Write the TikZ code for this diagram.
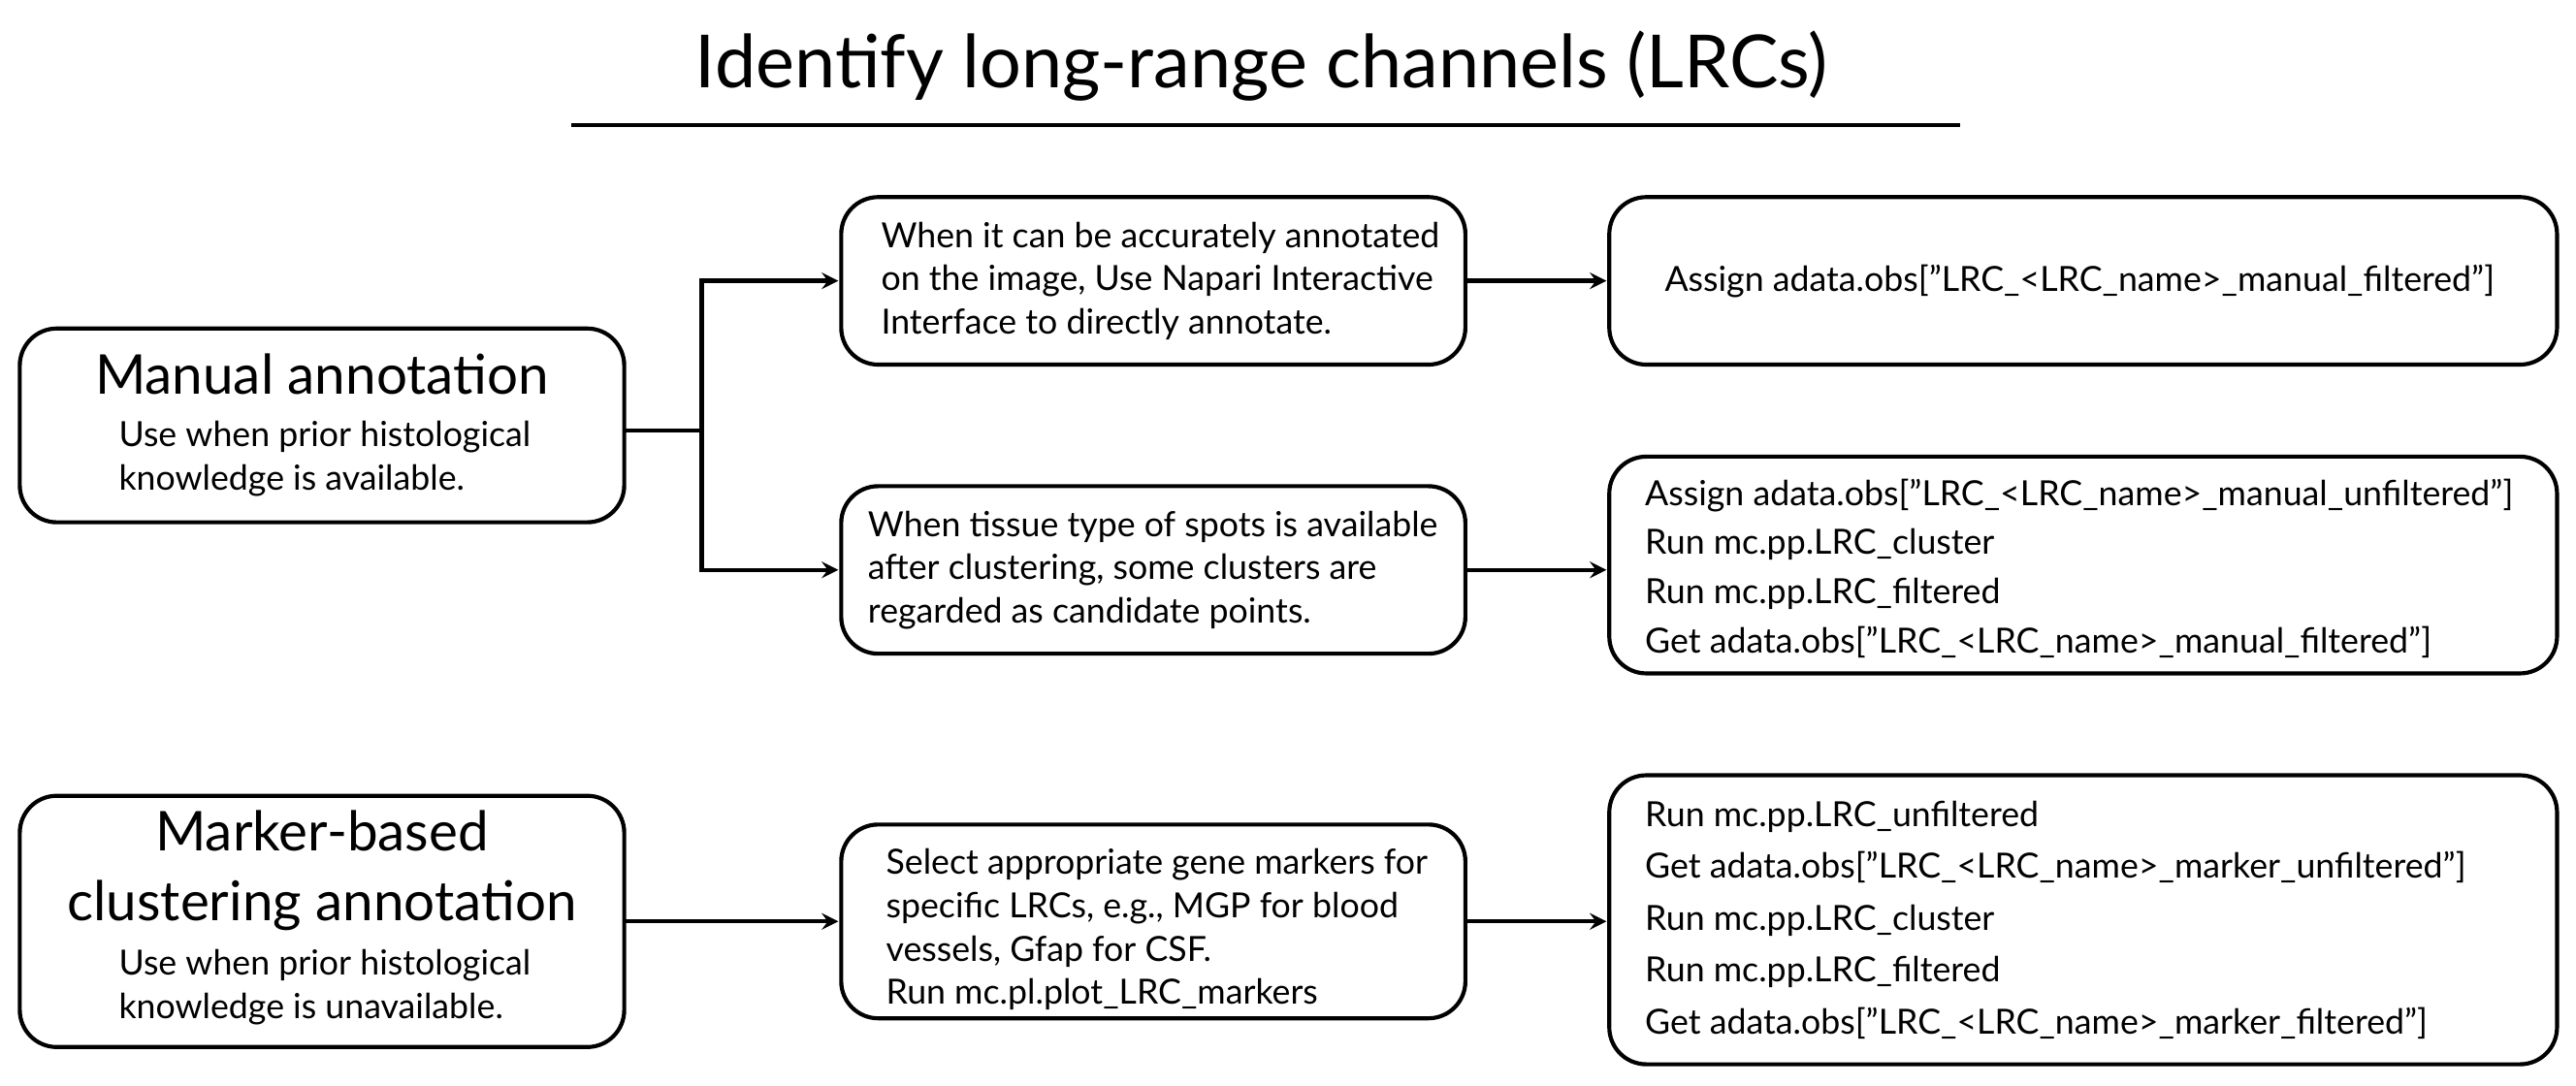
\documentclass[tikz,border=0pt]{standalone}
\usepackage{fontspec}
\setmainfont{Lato}
\usetikzlibrary{positioning}
\newcommand{\qt}{\symbol{34}}
\tikzstyle{box}  =[draw, rounded corners=0.45cm, line width=1.4pt,
                   inner sep=0pt, outer sep=0pt]
\tikzstyle{txt}  =[align=left, font=\fontsize{12}{15}\selectfont,
                   inner sep=0pt]
\tikzstyle{head} =[align=center, font=\fontsize{19}{24}\selectfont,
                   inner sep=0pt]
\tikzstyle{edge} =[->, >=stealth, line width=1.5pt, shorten >=1pt]
\begin{document}
\begin{tikzpicture}[x=0.02cm, y=-0.02cm]
    \useasboundingbox (0,0) rectangle (1568,661);

    \node[font=\fontsize{25.4}{30}\selectfont] (title) at (768,40)
        {Identify long-range channels (LRCs)};
    \draw[line width=1.4pt] (348,76) -- (1193,76);

    % left boxes
    \node[box, minimum width=7.36cm, minimum height=2.36cm] (manual) at (196,259) {};
    \node[head] (manualH) at (196,228) {Manual annotation};
    \node[txt, anchor=north west] (manualT) at (72,256)
        {Use when prior histological\\knowledge is available.};

    \node[box, minimum width=7.36cm, minimum height=3.06cm] (marker) at (196,561) {};
    \node[head] (markerH) at (196,530) {Marker-based\\clustering annotation};
    \node[txt, anchor=north west] (markerT) at (72,578)
        {Use when prior histological\\knowledge is unavailable.};

    % middle boxes
    \node[box, minimum width=7.6cm, minimum height=2.04cm] (mid1) at (702,171) {};
    \node[txt, anchor=west] at (536,171) {When it can be accurately annotated\\on the image, Use Napari Interactive\\Interface to directly annotate.};
    \node[box, minimum width=7.6cm, minimum height=2.04cm] (mid2) at (702,347) {};
    \node[txt, anchor=west] at (528,347) {When tissue type of spots is available\\after clustering, some clusters are\\regarded as candidate points.};
    \node[box, minimum width=7.6cm, minimum height=2.36cm] (mid3) at (702,561) {};
    \node[txt, anchor=west] at (539,566) {Select appropriate gene markers for\\specific LRCs, e.g., MGP for blood\\vessels, Gfap for CSF.\\Run mc.pl.plot\_LRC\_markers};

    % right boxes
    \node[box, minimum width=11.54cm, minimum height=2.04cm] (res1) at (1268,171) {};
    \node[txt, anchor=west] at (1013,171) {Assign adata.obs[\qt LRC\_<LRC\_name>\_manual\_filtered\qt]};
    \node[box, minimum width=11.54cm, minimum height=2.64cm] (res2) at (1268,344) {};
    \node[txt, anchor=west, font=\fontsize{12}{17}\selectfont] at (1001,346)
        {Assign adata.obs[\qt LRC\_<LRC\_name>\_manual\_unfiltered\qt]\\Run mc.pp.LRC\_cluster\\Run mc.pp.LRC\_filtered\\Get adata.obs[\qt LRC\_<LRC\_name>\_manual\_filtered\qt]};
    \node[box, minimum width=11.54cm, minimum height=3.52cm] (res3) at (1268,560) {};
    \node[txt, anchor=west, font=\fontsize{12}{18}\selectfont] at (1001,560)
        {Run mc.pp.LRC\_unfiltered\\Get adata.obs[\qt LRC\_<LRC\_name>\_marker\_unfiltered\qt]\\Run mc.pp.LRC\_cluster\\Run mc.pp.LRC\_filtered\\Get adata.obs[\qt LRC\_<LRC\_name>\_marker\_filtered\qt]};

    % connectors
    \coordinate (fork) at (427,262);
    \draw[line width=1.4pt] (manual.east |- fork) -- (fork);
    \draw[edge] (fork) |- (mid1.west);
    \draw[edge] (fork) |- (mid2.west);
    \draw[edge] (marker.east |- mid3) -- (mid3.west);
    \draw[edge] (mid1.east) -- (res1.west);
    \draw[edge] (mid2.east) -- (res2.west |- mid2.east);
    \draw[edge] (mid3.east) -- (res3.west |- mid3.east);
\end{tikzpicture}
\end{document}
